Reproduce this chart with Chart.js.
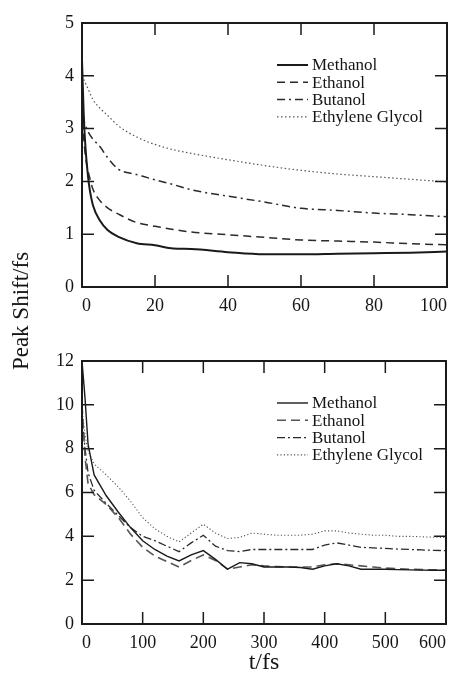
<!DOCTYPE html>
<html>
<head>
<meta charset="utf-8">
<script src="https://cdn.jsdelivr.net/npm/chart.js@4.4.0/dist/chart.umd.min.js"></script>
<style>
  body { margin: 0; background: #fff; }
  #page { position: relative; width: 452px; height: 675px; overflow: hidden; }
  #topChart { position: absolute; left: 0; top: 0; }
  #bottomChart { position: absolute; left: 0; top: 320px; }
  #ylabel {
    position: absolute; left: -79px; top: 298px; width: 200px; text-align: center;
    font: 23px/26px "Liberation Serif", "Times New Roman", serif; color: #151515;
    transform: rotate(-90deg);
  }
</style>
</head>
<body>
<div id="page">
  <canvas id="topChart" width="452" height="320"></canvas>
  <canvas id="bottomChart" width="452" height="355"></canvas>
  <div id="ylabel">Peak Shift/fs</div>
</div>
<script>
const seriesNames = ['Methanol', 'Ethanol', 'Butanol', 'Ethylene Glycol'];

// upper panel, 0-100 fs
const shortTime = [0, 0.5, 1, 1.5, 2, 3, 5, 7, 10, 15, 20, 25, 30, 40, 50, 60, 70, 80, 90, 100];
const shortMethanol = [4.3, 3.2, 2.6, 2.2, 1.9, 1.55, 1.25, 1.08, 0.95, 0.83, 0.79, 0.73, 0.72, 0.66, 0.62, 0.62, 0.63, 0.64, 0.65, 0.67];
const shortEthanol = [3.4, 2.8, 2.45, 2.25, 2.1, 1.85, 1.63, 1.5, 1.38, 1.22, 1.15, 1.09, 1.04, 0.99, 0.94, 0.89, 0.87, 0.85, 0.82, 0.80];
const shortButanol = [3.6, 3.2, 3.05, 2.97, 2.9, 2.8, 2.65, 2.45, 2.23, 2.13, 2.03, 1.94, 1.84, 1.72, 1.61, 1.49, 1.45, 1.40, 1.37, 1.33];
const shortGlycol = [4.0, 3.93, 3.85, 3.78, 3.7, 3.55, 3.38, 3.25, 3.05, 2.84, 2.7, 2.6, 2.53, 2.41, 2.3, 2.21, 2.14, 2.09, 2.04, 1.99];

// lower panel, 0-600 fs
const longTime = [0, 5, 10, 20, 40, 60, 80, 100, 120, 140, 160, 180, 200, 220, 240, 260, 280, 300, 320, 340, 360, 380, 400, 420, 440, 460, 480, 500, 520, 540, 560, 580, 600];
const longMethanol = [12, 10.3, 8.2, 6.8, 5.85, 5.1, 4.4, 3.8, 3.4, 3.1, 2.88, 3.15, 3.35, 2.95, 2.5, 2.8, 2.75, 2.6, 2.6, 2.6, 2.58, 2.5, 2.65, 2.75, 2.65, 2.5, 2.5, 2.5, 2.48, 2.47, 2.46, 2.45, 2.45];
const longEthanol = [10, 7.6, 6.4, 5.9, 5.45, 4.85, 4.1, 3.5, 3.1, 2.85, 2.6, 2.9, 3.15, 2.9, 2.5, 2.6, 2.7, 2.65, 2.62, 2.6, 2.6, 2.6, 2.7, 2.75, 2.7, 2.65, 2.6, 2.55, 2.52, 2.5, 2.48, 2.47, 2.45];
const longButanol = [9.5, 8.0, 6.9, 6.1, 5.5, 4.95, 4.4, 4.0, 3.8, 3.55, 3.3, 3.7, 4.05, 3.55, 3.35, 3.3, 3.4, 3.4, 3.4, 3.4, 3.4, 3.4, 3.6, 3.7, 3.6, 3.5, 3.47, 3.45, 3.42, 3.4, 3.38, 3.36, 3.35];
const longGlycol = [9.8, 8.6, 7.9, 7.3, 6.8, 6.25, 5.6, 4.85, 4.35, 4.0, 3.75, 4.15, 4.55, 4.15, 3.9, 3.95, 4.15, 4.1, 4.05, 4.05, 4.05, 4.1, 4.25, 4.25, 4.15, 4.1, 4.05, 4.05, 4.0, 4.0, 3.98, 3.96, 3.95];

const topXTicks = [0, 20, 40, 60, 80, 100];
const topYTicks = [0, 1, 2, 3, 4, 5];
const bottomXTicks = [0, 100, 200, 300, 400, 500, 600];
const bottomYTicks = [0, 2, 4, 6, 8, 10, 12];

const serif = '"Liberation Serif", "Times New Roman", serif';
Chart.defaults.font.family = serif;
Chart.defaults.color = '#151515';

const topStyles = [
  { color: '#1a1a1a', width: 2, dash: [] },
  { color: '#2a2a2a', width: 1.5, dash: [8, 5] },
  { color: '#2a2a2a', width: 1.5, dash: [8, 4, 2, 4] },
  { color: '#555', width: 1.2, dash: [1.5, 2.5] }
];
const bottomStyles = [
  { color: '#1a1a1a', width: 1.4, dash: [] },
  { color: '#555', width: 1.6, dash: [9, 5] },
  { color: '#2a2a2a', width: 1.3, dash: [8, 3, 2, 3] },
  { color: '#555', width: 1.1, dash: [1.2, 2.2] }
];

// frame + inward ticks on all four sides
const framePlugin = {
  id: 'frame',
  afterDatasetsDraw(chart) {
    const { ctx, chartArea: a, scales: { x, y } } = chart;
    ctx.save();
    ctx.strokeStyle = '#1a1a1a';
    ctx.lineWidth = 1.5;
    ctx.beginPath();
    x.ticks.forEach(t => {
      if (t.value === x.min || t.value === x.max) return;
      const px = x.getPixelForValue(t.value);
      ctx.moveTo(px, a.bottom); ctx.lineTo(px, a.bottom - 12);
      ctx.moveTo(px, a.top); ctx.lineTo(px, a.top + 12);
    });
    y.ticks.forEach(t => {
      if (t.value === y.min || t.value === y.max) return;
      const py = y.getPixelForValue(t.value);
      ctx.moveTo(a.left, py); ctx.lineTo(a.left + 12, py);
      ctx.moveTo(a.right, py); ctx.lineTo(a.right - 12, py);
    });
    ctx.stroke();
    ctx.lineWidth = 2;
    ctx.strokeRect(a.left, a.top, a.right - a.left, a.bottom - a.top);
    ctx.restore();
  }
};

// legend drawn inside the plot area
const legendPlugin = {
  id: 'insideLegend',
  afterDatasetsDraw(chart) {
    const { ctx, chartArea: a } = chart;
    const x0 = a.left + 195;
    ctx.save();
    ctx.font = '17px ' + serif;
    ctx.textBaseline = 'middle';
    ctx.fillStyle = '#151515';
    chart.data.datasets.forEach((ds, i) => {
      const yy = a.top + 42 + i * 17.3;
      ctx.strokeStyle = ds.borderColor;
      ctx.lineWidth = ds.borderWidth;
      ctx.setLineDash(ds.borderDash);
      ctx.beginPath();
      ctx.moveTo(x0, yy);
      ctx.lineTo(x0 + 31, yy);
      ctx.stroke();
      ctx.setLineDash([]);
      ctx.fillText(ds.label, x0 + 35, yy + 1);
    });
    ctx.restore();
  }
};

function makeChart(id, time, series, styles, xTicks, yTicks, opt) {
  return new Chart(document.getElementById(id), {
    type: 'line',
    data: {
      datasets: series.map((vals, i) => ({
        label: seriesNames[i],
        data: time.map((t, k) => ({ x: t, y: vals[k] })),
        borderColor: styles[i].color,
        borderWidth: styles[i].width,
        borderDash: styles[i].dash,
        pointRadius: 0,
        fill: false,
        tension: 0,
        cubicInterpolationMode: opt.smooth ? 'monotone' : 'default'
      }))
    },
    options: {
      responsive: false,
      animation: false,
      layout: { padding: { left: 0, right: opt.right, top: opt.top, bottom: 0 } },
      plugins: { legend: { display: false }, tooltip: { enabled: false } },
      scales: {
        x: {
          type: 'linear',
          min: xTicks[0],
          max: xTicks[xTicks.length - 1],
          afterBuildTicks: s => { s.ticks = xTicks.map(v => ({ value: v })); },
          afterFit: s => { s.height = opt.xHeight; s.paddingLeft = 0; s.paddingRight = 0; },
          grid: { display: false, drawTicks: false },
          border: { display: false },
          ticks: { align: 'inner', padding: 8, font: { size: 18 } },
          title: {
            display: !!opt.xTitle,
            text: opt.xTitle || '',
            padding: 0,
            font: { size: 24, lineHeight: 1 }
          }
        },
        y: {
          type: 'linear',
          min: yTicks[0],
          max: yTicks[yTicks.length - 1],
          afterBuildTicks: s => { s.ticks = yTicks.map(v => ({ value: v })); },
          afterFit: s => { s.width = 82; s.paddingTop = 0; s.paddingBottom = 0; },
          grid: { display: false, drawTicks: false },
          border: { display: false },
          ticks: { padding: 8, font: { size: 18 } }
        }
      }
    },
    plugins: [framePlugin, legendPlugin]
  });
}

makeChart('topChart', shortTime,
  [shortMethanol, shortEthanol, shortButanol, shortGlycol],
  topStyles, topXTicks, topYTicks,
  { top: 23, right: 5, xHeight: 33, smooth: true });

makeChart('bottomChart', longTime,
  [longMethanol, longEthanol, longButanol, longGlycol],
  bottomStyles, bottomXTicks, bottomYTicks,
  { top: 41, right: 6, xHeight: 51, smooth: false, xTitle: 't/fs' });
</script>
</body>
</html>
